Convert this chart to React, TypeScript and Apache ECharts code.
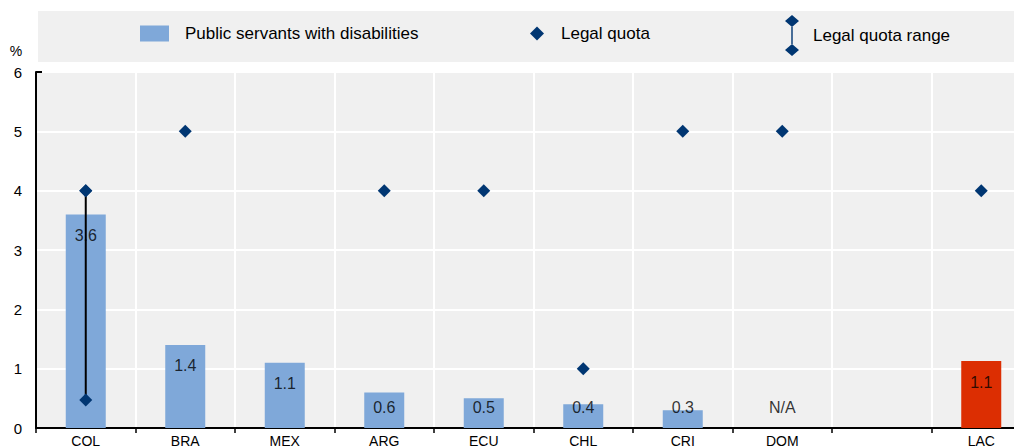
import React, { useEffect, useRef } from "react";
import * as echarts from "echarts";

const categories = ["COL", "BRA", "MEX", "ARG", "ECU", "CHL", "CRI", "DOM", "", "LAC"];
const servants: (number | null)[] = [3.6, 1.4, 1.1, 0.6, 0.5, 0.4, 0.3, null, null, 1.13];
const legalQuota: (number | null)[] = [4, 5, null, 4, 4, 1, 5, 5, null, 4];
const quotaRangeCategory = "COL";
const quotaRangeLow = 0.47;
const quotaRangeHigh = 4;
const notAvailable = ["DOM"];
const highlightCategory = "LAC";
const yTicks = [0, 1, 2, 3, 4, 5, 6];

const FONT = "'Liberation Sans', Arial, sans-serif";
const BLUE = "#7FA8D9";
const RED = "#DC2E02";
const NAVY = "#003672";
const BG = "#F0F0F0";

const rangeIcon =
  "path://M7 0 L14 6 L7 12 L0 6 Z M6.3 12 L7.7 12 L7.7 29 L6.3 29 Z M7 29 L14 35 L7 41 L0 35 Z";

export default function App() {
  const ref = useRef<HTMLDivElement>(null);
  useEffect(() => {
    document.body.style.margin = "0";
    const chart = echarts.init(ref.current!, null, { renderer: "svg" });

    const barData = servants.map((v, i) => {
      if (categories[i] === highlightCategory) {
        return { value: v, itemStyle: { color: RED } };
      }
      return v;
    });

    // label positions derived from bar values (inside top, never below a floor)
    const labelData = servants.map((v, i) => {
      if (notAvailable.includes(categories[i])) return { value: 0.34, label: { formatter: "N/A" } };
      if (v == null) return null;
      return { value: Math.max(v - 0.355, 0.34), label: { formatter: v.toFixed(1) } };
    });

    chart.setOption({
      animation: false,
      textStyle: { fontFamily: FONT },
      graphic: [
        {
          type: "rect",
          left: 38,
          top: 11,
          shape: { width: 976, height: 51 },
          style: { fill: BG },
          z: -1,
        },
        {
          type: "line",
          shape: { x1: 36, y1: 72, x2: 42, y2: 72 },
          style: { stroke: "#000", lineWidth: 2 },
          z: 10,
        },
      ],
      grid: {
        left: 36,
        width: 995,
        top: 72,
        bottom: 20,
        show: true,
        backgroundColor: BG,
        borderWidth: 0,
        containLabel: false,
        outerBoundsMode: "none",
      },
      legend: [
        {
          left: 140,
          top: 25,
          padding: 0,
          itemWidth: 29,
          itemHeight: 16,
          data: [{ name: "Public servants with disabilities", icon: "rect" }],
          textStyle: { fontFamily: FONT, fontSize: 17, color: "#000", padding: [3, 0, 0, 11] },
          selectedMode: false,
        },
        {
          left: 530,
          top: 25,
          padding: 0,
          itemWidth: 14,
          itemHeight: 14,
          data: [{ name: "Legal quota", icon: "diamond" }],
          textStyle: { fontFamily: FONT, fontSize: 17, color: "#000", padding: [0, 0, 0, 12] },
          selectedMode: false,
        },
        {
          left: 785,
          top: 15,
          padding: 0,
          itemWidth: 14,
          itemHeight: 41,
          data: [{ name: "Legal quota range", icon: rangeIcon, itemStyle: { color: NAVY } }],
          textStyle: { fontFamily: FONT, fontSize: 17, color: "#000", padding: [0, 0, 0, 9] },
          selectedMode: false,
        },
      ],
      xAxis: {
        type: "category",
        data: categories,
        boundaryGap: true,
        axisLine: { show: true, lineStyle: { color: "#000", width: 2 } },
        axisTick: { show: true, length: 5, lineStyle: { color: "#000", width: 1.5 } },
        axisLabel: { color: "#000", fontSize: 14, fontFamily: FONT, margin: 6 },
        splitLine: { show: true, lineStyle: { color: "#fff", width: 2 } },
      },
      yAxis: {
        type: "value",
        min: yTicks[0],
        max: yTicks[yTicks.length - 1],
        interval: 1,
        name: "%",
        nameLocation: "end",
        nameGap: 14,
        nameTextStyle: { color: "#000", fontSize: 14, fontFamily: FONT, padding: [0, 40, 0, 0] },
        axisLine: { show: true, lineStyle: { color: "#000", width: 2 } },
        axisTick: { show: false },
        axisLabel: { color: "#000", fontSize: 15, fontFamily: FONT, margin: 14 },
        splitLine: { show: true, lineStyle: { color: "#fff", width: 2 } },
      },
      series: [
        {
          name: "Public servants with disabilities",
          type: "bar",
          data: barData,
          barWidth: 40,
          itemStyle: { color: BLUE },
          z: 2,
        },
        {
          name: "Legal quota range",
          type: "line",
          data: [
            [quotaRangeCategory, quotaRangeLow],
            [quotaRangeCategory, quotaRangeHigh],
          ],
          symbol: "diamond",
          symbolSize: 13,
          showSymbol: true,
          lineStyle: { color: "#000", width: 2 },
          itemStyle: { color: NAVY, opacity: 1 },
          z: 4,
        },
        {
          name: "Legal quota",
          type: "scatter",
          data: legalQuota,
          symbol: "diamond",
          symbolSize: 13,
          itemStyle: { color: NAVY, opacity: 1 },
          z: 5,
        },
        {
          name: "labels",
          type: "scatter",
          data: labelData,
          symbolSize: 0,
          silent: true,
          z: 6,
          label: {
            show: true,
            position: "inside",
            color: "#000",
            fontSize: 16,
            fontFamily: FONT,
          },
        },
      ],
    });
    return () => chart.dispose();
  }, []);
  return <div ref={ref} style={{ width: 1014, height: 448 }} />;
}
